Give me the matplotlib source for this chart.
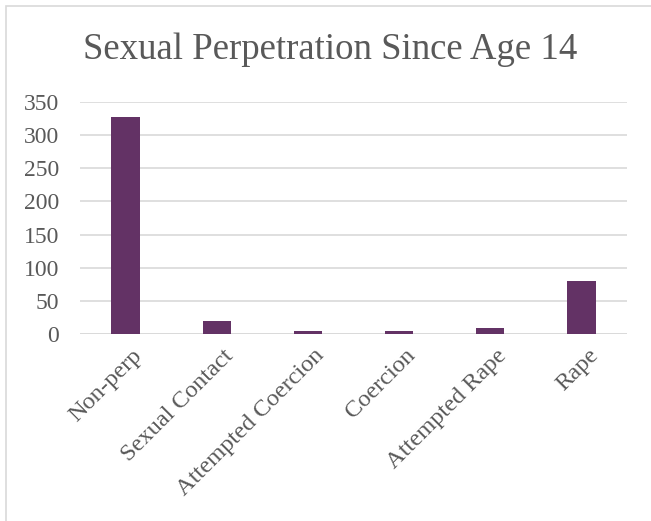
import matplotlib
matplotlib.use("Agg")
import matplotlib.pyplot as plt
import matplotlib.transforms as mtransforms
from matplotlib.patches import Rectangle

categories = ["Non-perp", "Sexual Contact", "Attempted Coercion", "Coercion", "Attempted Rape", "Rape"]
values = [328, 20, 5, 4, 9, 80]
yticks = [0, 50, 100, 150, 200, 250, 300, 350]

plt.rcParams['font.family'] = ['Liberation Serif', 'DejaVu Serif']
fig = plt.figure(figsize=(6.51, 5.21), dpi=100)
fig.patches.append(Rectangle((6/651, -0.1), 1.2, 1 - 6/521 + 0.1, transform=fig.transFigure,
                             fill=False, edgecolor='#d9d9d9', linewidth=1.2))
ax = fig.add_axes([80/651, 1 - 334/521, (627 - 80)/651, (334 - 102)/521])
x = list(range(len(categories)))
ax.bar(x, values, width=0.31, color='#633265', zorder=3)
ax.set_xlim(-0.5, len(categories) - 0.5)
ax.set_ylim(0, 350)
ax.set_yticks(yticks)
ax.set_yticklabels([str(v) for v in yticks], fontsize=17, color='#595959')
ax.set_xticks(x)
ax.set_xticklabels(categories, rotation=45, ha='right', rotation_mode='anchor',
                   fontsize=17.6, color='#595959')
ax.tick_params(axis='both', length=0)
ax.tick_params(axis='x', pad=8)
ax.tick_params(axis='y', pad=15)
offset = mtransforms.ScaledTranslation(6/100, 0, fig.dpi_scale_trans)
for lab in ax.get_xticklabels():
    lab.set_transform(lab.get_transform() + offset)
ax.grid(axis='y', color='#d9d9d9', linewidth=1.2, zorder=0)
for s in ax.spines.values():
    s.set_visible(False)
ax.axhline(0, color='#d9d9d9', linewidth=1.2, zorder=2)
fig.text(330/651, 1 - 59/521, "Sexual Perpetration Since Age 14", ha='center', va='baseline',
         fontsize=26.5, color='#595959')
fig.savefig("out.png", dpi=100)
